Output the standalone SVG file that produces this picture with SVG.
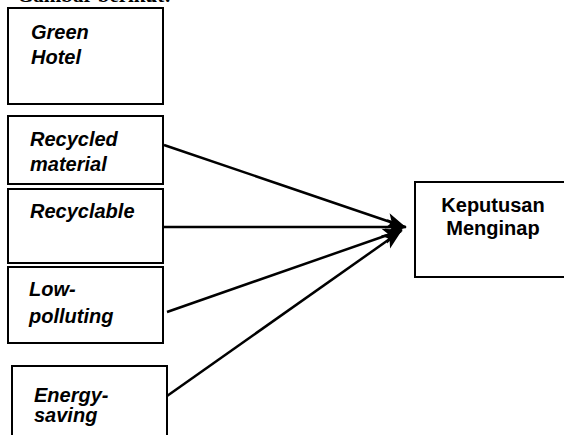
<svg xmlns="http://www.w3.org/2000/svg" width="564" height="435" viewBox="0 0 564 435">
<style>
.box{fill:#fff;stroke:#000;stroke-width:2}
.lbl{font-family:"Liberation Sans",Arial,sans-serif;font-weight:bold;font-style:italic;font-size:20px;fill:#000}
.tgt{font-family:"Liberation Sans",Arial,sans-serif;font-weight:bold;font-size:20px;fill:#000}
.hdr{font-family:"Liberation Serif","Times New Roman",serif;font-weight:bold;font-size:21px;fill:#000}
.edge{stroke:#000;stroke-width:2.5;fill:none}
</style>
<defs>
<marker id="ah" markerUnits="userSpaceOnUse" markerWidth="22" markerHeight="20" refX="19" refY="10" orient="auto">
<path d="M0,2 L20,10 L0,18 L5,10 Z" fill="#000"/>
</marker>
</defs>
<rect width="564" height="435" fill="#fff"/>
<text class="hdr" x="17" y="2">Gambar berikut:</text>
<g id="green-hotel">
<rect class="box" x="8" y="8" width="155" height="96"/>
<text class="lbl" x="31" y="39">Green</text>
<text class="lbl" x="31" y="64">Hotel</text>
</g>
<g id="recycled-material">
<rect class="box" x="8" y="116" width="155" height="68"/>
<text class="lbl" x="30" y="146">Recycled</text>
<text class="lbl" x="30" y="171">material</text>
</g>
<g id="recyclable">
<rect class="box" x="8" y="189" width="155" height="74"/>
<text class="lbl" x="30" y="218">Recyclable</text>
</g>
<g id="low-polluting">
<rect class="box" x="8" y="267" width="155" height="76"/>
<text class="lbl" x="29" y="296">Low-</text>
<text class="lbl" x="29" y="323">polluting</text>
</g>
<g id="energy-saving">
<rect class="box" x="12" y="366" width="155" height="80"/>
<text class="lbl" x="34" y="402">Energy-</text>
<text class="lbl" x="34" y="422">saving</text>
</g>
<g id="keputusan-menginap">
<rect class="box" x="415" y="182" width="160" height="95"/>
<text class="tgt" x="493" y="212" text-anchor="middle">Keputusan</text>
<text class="tgt" x="493" y="235" text-anchor="middle">Menginap</text>
</g>
<g id="connectors">
<line class="edge" x1="164" y1="145" x2="405" y2="227" marker-end="url(#ah)"/>
<line class="edge" x1="164" y1="227" x2="406" y2="227" marker-end="url(#ah)"/>
<line class="edge" x1="167" y1="312" x2="402" y2="230" marker-end="url(#ah)"/>
<line class="edge" x1="167" y1="396" x2="401" y2="231" marker-end="url(#ah)"/>
</g>
</svg>
